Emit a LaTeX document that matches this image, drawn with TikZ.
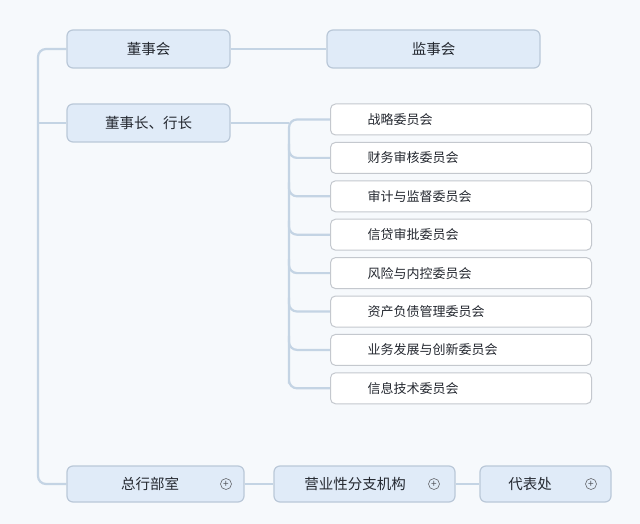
\documentclass[tikz,border=0pt]{standalone}
\usepackage{fontspec}
\setmainfont{Noto Sans CJK SC}
\definecolor{bg}{RGB}{246,249,252}
\definecolor{ln}{RGB}{196,212,228}
\definecolor{bfill}{RGB}{224,235,248}
\definecolor{bdraw}{RGB}{186,200,216}
\definecolor{cdraw}{RGB}{196,200,206}
\definecolor{txt}{RGB}{36,40,48}
\pgfdeclarelayer{bgl}
\pgfsetlayers{bgl,main}
\tikzset{
  x=1pt,y=-1pt,
  mainbox/.style={draw=bdraw,line width=1.2pt,fill=bfill,rounded corners=6pt,minimum height=38pt,inner sep=0pt,text=txt,font=\fontsize{14.5}{16}\selectfont},
  combox/.style={draw=cdraw,line width=1pt,fill=white,rounded corners=5pt,minimum height=31pt,minimum width=261pt,inner sep=0pt,anchor=west},
  comtext/.style={anchor=west,text=txt,font=\fontsize{13}{15}\selectfont},
  btext/.style={text=txt,font=\fontsize{14.5}{16}\selectfont},
  conn/.style={draw=ln,line width=2.2pt,rounded corners=8pt},
  pluss/.style={circle,draw=txt!70,line width=0.6pt,minimum size=11pt,inner sep=0pt,font=\fontsize{10}{10}\selectfont,text=txt!80},
}
\begin{document}
\begin{tikzpicture}
\begin{pgfonlayer}{bgl}
\fill[bg] (0,0) rectangle (640,524);
\end{pgfonlayer}
\useasboundingbox (0,0) rectangle (640,524);
% main boxes
\node[mainbox,minimum width=163pt] (dsh) at (148.5,49) {董事会};
\node[mainbox,minimum width=213pt] (jsh) at (433.5,49) {监事会};
\node[mainbox,minimum width=163pt] (dsz) at (148.5,123) {董事长、行长};
\node[mainbox,minimum width=177pt,minimum height=36pt] (zh) at (155.5,484) {};
\node[mainbox,minimum width=181pt,minimum height=36pt] (yy) at (364.5,484) {};
\node[mainbox,minimum width=131pt,minimum height=36pt] (db) at (545.5,484) {};
\node[btext] (zht) at (150,484) {总行部室};
\node[btext] (yyt) at (355,484) {营业性分支机构};
\node[btext] (dbt) at (530,484) {代表处};
\node[pluss] (p1) at (226,484) {+};
\node[pluss] (p2) at (434,484) {+};
\node[pluss] (p3) at (591,484) {+};
% committees
\foreach \i/\t in {0/战略委员会,1/财务审核委员会,2/审计与监督委员会,3/信贷审批委员会,4/风险与内控委员会,5/资产负债管理委员会,6/业务发展与创新委员会,7/信息技术委员会}{
  \node[combox] (c\i) at (330,{119.5+38.4*\i}) {};
  \node[comtext] (ct\i) at (364,{119.5+38.4*\i}) {\t};
}
% connectors (behind boxes)
\coordinate (L) at (38,0);
\coordinate (V) at (289,0);
\begin{pgfonlayer}{bgl}
\draw[conn] (dsh.west) -| (L |- dsz.west) |- (zh.west);
\draw[conn] (L |- dsz.west) -- (dsz.west);
\draw[conn] (dsh.east) -- (jsh.west);
\draw[conn] (zh.east) -- (yy.west);
\draw[conn] (yy.east) -- (db.west);
\draw[conn] (dsz.east) -- (V |- dsz.east);
\draw[conn] (c0.west) -| (V |- c7.west) |- (c7.west);
\foreach \i in {1,...,6}{
  \draw[conn] ([yshift=14pt]V |- c\i.west) |- (c\i.west);
}
\end{pgfonlayer}
\end{tikzpicture}
\end{document}
